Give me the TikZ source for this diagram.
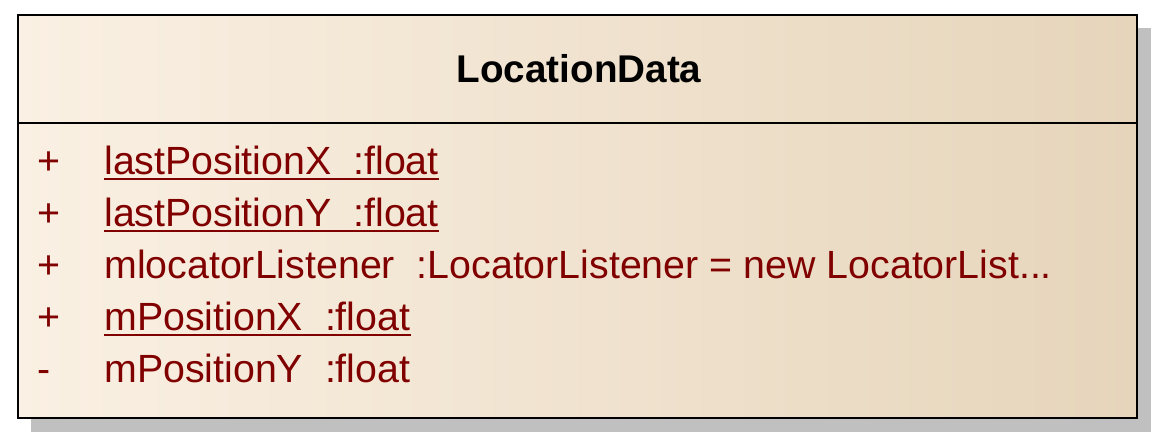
\documentclass[tikz,border=0pt]{standalone}
\usepackage{fontspec}
\setmainfont{Liberation Sans}
\usetikzlibrary{positioning}
\definecolor{attrred}{RGB}{128,0,0}
\definecolor{creamleft}{RGB}{250,240,227}
\definecolor{creamright}{RGB}{230,213,187}
\definecolor{shadowgray}{RGB}{192,192,192}

\begin{document}
\begin{tikzpicture}[
    x=0.75pt, y=-0.75pt,
    classbox/.style={draw=black, line width=0.9pt,
                     left color=creamleft, right color=creamright},
    title/.style={font=\fontsize{29}{35}\selectfont\bfseries, anchor=base, inner sep=0pt},
    vis/.style={font=\fontsize{29.5}{35}\selectfont, text=attrred, anchor=base west, inner sep=0pt},
    attr/.style={font=\fontsize{29.5}{35}\selectfont, text=attrred, anchor=base west, inner sep=0pt},
    uline/.style={draw=attrred, line width=0.8pt}
]
  \useasboundingbox (0,0) rectangle (1164,441);

  % shadow, box and compartment line
  \fill[shadowgray] (31,28) rectangle (1151,432);
  \draw[classbox] (18,15) rectangle (1137,418);
  \draw[line width=0.9pt] (18,123) -- (1137,123);

  \node[title] (name) at (579,83) {LocationData};

  % attributes
  \node[vis]  (v1) at (37,175) {+};
  \node[attr] (a1) at (104,175) {lastPositionX\ \ :float};
  \node[vis]  (v2) at (37,227) {+};
  \node[attr] (a2) at (104,227) {lastPositionY\ \ :float};
  \node[vis]  (v3) at (37,279) {+};
  \node[attr] (a3) at (104,279) {mlocatorListener\ \ :LocatorListener = new LocatorList...};
  \node[vis]  (v4) at (37,331) {+};
  \node[attr] (a4) at (104,331) {mPositionX\ \ :float};
  \node[vis]  (v5) at (37,383) {-};
  \node[attr] (a5) at (104,383) {mPositionY\ \ :float};

  % static members are underlined
  \draw[uline] ([yshift=-3pt]a1.base west) -- ([yshift=-3pt]a1.base east);
  \draw[uline] ([yshift=-3pt]a2.base west) -- ([yshift=-3pt]a2.base east);
  \draw[uline] ([yshift=-3pt]a4.base west) -- ([yshift=-3pt]a4.base east);
\end{tikzpicture}
\end{document}
